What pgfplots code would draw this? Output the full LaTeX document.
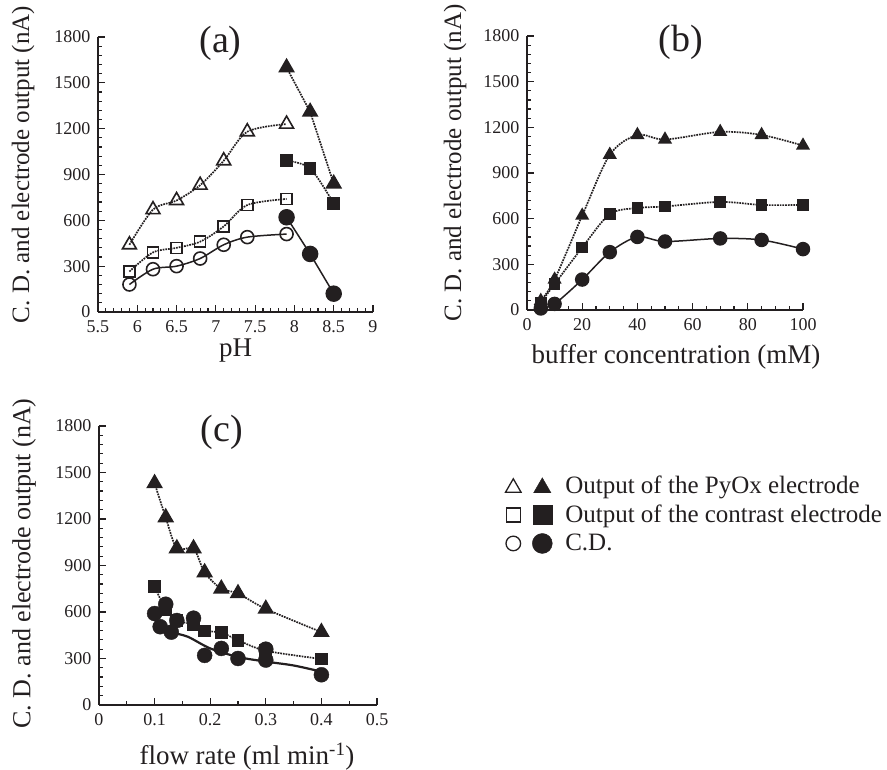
\documentclass[border=0pt]{standalone}
\usepackage{fontspec}
\setmainfont{Liberation Serif}
\usepackage{pgfplots}
\pgfplotsset{compat=1.18}

\definecolor{ink}{HTML}{231F20}

\pgfplotsset{
  panel/.style={
    scale only axis,
    axis x line*=bottom, axis y line*=left,
    ymin=0, ymax=1800, ytick={0,300,...,1800},
    minor y tick num=4,
    axis line style={line width=1.6pt, ink},
    tick style={line width=1.2pt, ink},
    major tick length=7pt, minor tick length=4pt,
    tick align=inside,
    tick label style={font=\fontsize{18}{20}\selectfont, text=ink},
    /pgf/number format/assume math mode=true,
    /pgf/number format/set thousands separator={},
    xticklabel style={yshift=-5pt},
    yticklabel style={xshift=-4pt},
    label style={text=ink},
    ylabel={C. D. and electrode output (nA)},
    ylabel style={font=\fontsize{25}{28}\selectfont, at={(axis description cs:0,0.5)}, anchor=center, yshift=75pt, xshift=10pt},
    xlabel style={font=\fontsize{27}{30}\selectfont, at={(axis description cs:0.5,0)}, anchor=center, yshift=-44pt},
    title style={font=\fontsize{38}{40}\selectfont, text=ink, at={(0.5,1)}, anchor=center, yshift=-12pt},
    clip=false,
  },
  dotln/.style={ink, densely dotted, line width=1.7pt},
  solln/.style={ink, solid, line width=1.5pt},
  otri/.style={mark=triangle, mark size=8pt, mark options={solid, line width=1.6pt, fill=white, draw=ink}},
  ftri/.style={mark=triangle*, mark size=8pt, mark options={solid, fill=ink, draw=ink}},
  osq/.style={mark=square, mark size=5.5pt, mark options={solid, line width=1.6pt, fill=white, draw=ink}},
  fsq/.style={mark=square*, mark size=5.5pt, mark options={solid, fill=ink, draw=ink}},
  ocir/.style={mark=o, mark size=6.5pt, mark options={solid, line width=1.6pt, fill=white, draw=ink}},
  fcir/.style={mark=*, mark size=7.5pt, mark options={solid, fill=ink, draw=ink}},
}

\begin{document}
\begin{tikzpicture}

% ---------- (a) pH ----------
\begin{axis}[panel,
  at={(98pt,458pt)}, anchor=south west, width=275pt, height=275pt,
  xmin=5.5, xmax=9, xtick={5.5,6,...,9}, minor x tick num=4,
  xlabel={pH}, xlabel style={yshift=5pt},
  title={(a)}, title style={xshift=-15pt},
]
\addplot[dotln, smooth, otri] coordinates {
  (5.9,440) (6.2,670) (6.5,730) (6.8,830) (7.1,990) (7.4,1180) (7.9,1230)
};
\addplot[dotln, smooth, osq] coordinates {
  (5.9,265) (6.2,390) (6.5,420) (6.8,460) (7.1,560) (7.4,700) (7.9,740)
};
\addplot[solln, smooth, ocir] coordinates {
  (5.9,180) (6.2,280) (6.5,300) (6.8,350) (7.1,440) (7.4,490) (7.9,510)
};
\addplot[dotln, ftri] coordinates {(7.9,1600) (8.2,1310) (8.5,840)};
\addplot[dotln, smooth, fsq] coordinates {(7.9,990) (8.2,940) (8.5,710)};
\addplot[solln, fcir] coordinates {(7.9,620) (8.2,380) (8.5,120)};
\end{axis}

% ---------- (b) buffer concentration ----------
\begin{axis}[panel,
  at={(527pt,460pt)}, anchor=south west, width=276pt, height=274pt,
  xmin=0, xmax=100, xtick={0,20,...,100}, minor x tick num=3,
  xlabel={buffer concentration (mM)}, xlabel style={xshift=11pt, yshift=-3pt},
  ylabel style={yshift=-3pt},
  title={(b)}, title style={xshift=16pt},
]
\addplot[dotln, smooth, ftri, mark size=6.5pt] coordinates {
  (5,60) (10,200) (20,620) (30,1020) (40,1150) (50,1120) (70,1170) (85,1150) (100,1080)
};
\addplot[dotln, smooth, fsq, mark size=5pt] coordinates {
  (5,50) (10,170) (20,410) (30,630) (40,670) (50,680) (70,710) (85,690) (100,690)
};
\addplot[solln, smooth, fcir, mark size=6.5pt] coordinates {
  (5,10) (10,40) (20,200) (30,380) (40,480) (50,450) (70,470) (85,460) (100,400)
};
\end{axis}

% ---------- (c) flow rate ----------
\begin{axis}[panel,
  at={(99pt,65pt)}, anchor=south west, width=278pt, height=279pt,
  xmin=0, xmax=0.5, xtick={0,0.1,...,0.5}, minor x tick num=1,
  xticklabel style={/pgf/number format/fixed},
  xlabel={flow rate (ml min\textsuperscript{-1})}, xlabel style={xshift=9pt, yshift=-8pt},
  ylabel style={xshift=-8pt, font=\fontsize{26}{28}\selectfont},
  title={(c)}, title style={xshift=-16pt},
  legend cell align=left,
  legend style={at={(axis description cs:1.45,0.835)}, anchor=north west, draw=none, fill=none,
    font=\fontsize{25}{28}\selectfont, text=ink, row sep=6pt},
]
\addplot[forget plot, dotln, smooth, ftri] coordinates {
  (0.1,1430) (0.12,1210) (0.14,1010) (0.17,1010) (0.19,855) (0.22,750) (0.25,720) (0.3,620) (0.4,470)
};
\addplot[forget plot, dotln, smooth, fsq] coordinates {
  (0.1,765) (0.12,615) (0.14,545) (0.17,520) (0.19,478) (0.22,468) (0.25,418) (0.3,350) (0.4,297)
};
\addplot[forget plot, solln, smooth, no marks, line width=2.2pt] coordinates {
  (0.11,505) (0.13,470) (0.16,440) (0.2,365) (0.25,310) (0.3,280) (0.35,255) (0.4,215)
};
\addplot[forget plot, only marks, fcir] coordinates {
  (0.1,590) (0.12,650) (0.11,505) (0.13,470) (0.14,545) (0.17,560) (0.19,320)
  (0.22,365) (0.25,300) (0.3,360) (0.3,290) (0.4,195)
};
\addlegendimage{legend image code/.code={
  \path[draw=none, fill=none] (-8pt,0pt) -- (50pt,0pt);
  \draw[ink, line width=1.3pt, mark=triangle, mark size=9pt] plot coordinates {(0pt,-2pt)};
  \draw[ink, mark=triangle*, mark size=10pt, fill=ink] plot coordinates {(29pt,-2pt)};}}
\addlegendentry{Output of the PyOx electrode}
\addlegendimage{legend image code/.code={
  \path[draw=none, fill=none] (-8pt,0pt) -- (50pt,0pt);
  \draw[ink, line width=1.3pt, mark=square, mark size=7pt] plot coordinates {(0pt,0pt)};
  \draw[ink, mark=square*, mark size=9.5pt, fill=ink] plot coordinates {(29pt,0pt)};}}
\addlegendentry{Output of the contrast electrode}
\addlegendimage{legend image code/.code={
  \path[draw=none, fill=none] (-8pt,0pt) -- (50pt,0pt);
  \draw[ink, line width=1.3pt, mark=o, mark size=7.3pt] plot coordinates {(0pt,0pt)};
  \draw[ink, mark=*, mark size=10pt, fill=ink] plot coordinates {(29pt,0pt)};}}
\addlegendentry{C.D.}
\end{axis}

\pgfresetboundingbox
\useasboundingbox (0pt,0pt) rectangle (887pt,770pt);
\end{tikzpicture}
\end{document}
